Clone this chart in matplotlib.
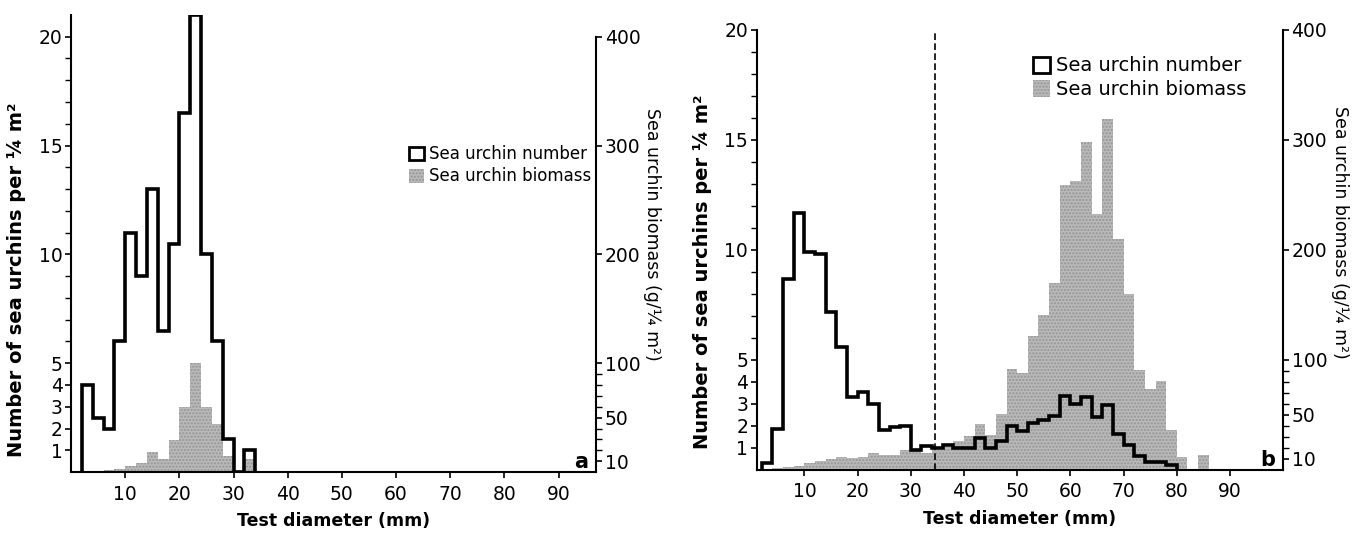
import numpy as np
import matplotlib
matplotlib.use("Agg")
import matplotlib.pyplot as plt
from matplotlib.patches import Patch

plt.rcParams['font.family'] = ['DejaVu Sans']

# size classes, 2 mm wide
edges_a = np.arange(2, 36, 2)
number_a = [4, 2.5, 2, 6, 11, 9, 13, 6.5, 10.5, 16.5, 21, 10, 6, 1.5, 0, 1]
biomass_a = [0, 0, 2, 3, 6, 8, 18, 12, 29, 60, 100, 60, 44, 15, 0, 12]

edges_b_num = np.arange(2, 82, 2)
number_b = [0.3, 1.85, 8.7, 11.7, 9.9, 9.8, 7.2, 5.6, 3.3, 3.55,
            3.0, 1.8, 1.95, 2.0, 0.9, 1.1, 1.0, 1.15, 1.0, 1.0,
            1.45, 1.0, 1.3, 2.0, 1.75, 2.15, 2.25, 2.45, 3.35, 3.0,
            3.3, 2.4, 2.95, 1.65, 1.15, 0.65, 0.38, 0.38, 0.22]
edges_b_bio = np.arange(2, 88, 2)
biomass_b = [0, 2, 3, 4, 6, 8, 10, 12, 11, 12,
             15, 14, 14, 18, 17, 15, 18, 21, 26, 31,
             42, 32, 51, 92, 88, 122, 141, 170, 259, 263,
             298, 233, 319, 210, 160, 91, 74, 81, 36, 12,
             0, 14]

divider_b = 34.5

num_ticks = [1, 2, 3, 4, 5, 10, 15, 20]
num_minor = [6, 7, 8, 9, 11, 12, 13, 14, 16, 17, 18, 19]
bio_ticks = [10, 50, 100, 200, 300, 400]
bio_minor = [20, 30, 40, 60, 70, 80, 90]
x_ticks = [10, 20, 30, 40, 50, 60, 70, 80, 90]

gray = '#b9b9b9'

fig = plt.figure(figsize=(13.68, 5.34), dpi=100)


def panel(rect, edges_n, num, edges_m, bio, ymax, xlim, letter, leg_anchor, leg_size):
    ax = fig.add_axes(rect)
    ax2 = ax.twinx()
    ax2.stairs(bio, edges_m, fill=True, facecolor=gray, edgecolor='#959595',
               hatch='.....', linewidth=0)
    ax.stairs(num, edges_n, color='black', linewidth=2.6, baseline=0)
    ax.set_zorder(2)
    ax2.set_zorder(1)
    ax.patch.set_visible(False)

    ax.set_xlim(*xlim)
    ax.set_ylim(0, ymax)
    ax2.set_ylim(0, ymax * 20)
    ax2.spines['right'].set_bounds(0, 400)

    for s in ['top', 'right']:
        ax.spines[s].set_visible(False)
    for s in ['top', 'left', 'bottom']:
        ax2.spines[s].set_visible(False)
    for a in (ax, ax2):
        for s in a.spines.values():
            s.set_linewidth(1.5)

    ax.set_yticks(num_ticks)
    ax.set_yticks(num_minor, minor=True)
    ax2.set_yticks(bio_ticks)
    ax2.set_yticks(bio_minor, minor=True)
    ax.set_xticks(x_ticks)
    ax.tick_params(labelsize=13.5, width=1.2, length=4, pad=2)
    ax.tick_params(axis='x', pad=5)
    ax.tick_params(which='minor', width=1.0, length=4)
    ax2.tick_params(labelsize=13.5, width=1.2, length=4, pad=2)
    ax2.tick_params(which='minor', width=1.0, length=4)

    ax.set_xlabel('Test diameter (mm)', fontsize=12.5, fontweight='bold', labelpad=6)
    ax.set_ylabel('Number of sea urchins per \u00bc m\u00b2', fontsize=14,
                  fontweight='bold')
    ax2.set_ylabel('Sea urchin biomass (g/\u00bc m\u00b2)', fontsize=12.5,
                   rotation=270, va='center')

    ax.text(0.985, 0.0, letter, transform=ax.transAxes, ha='right', va='bottom',
            fontsize=15, fontweight='bold')

    handles = [Patch(facecolor='white', edgecolor='black', linewidth=2),
               Patch(facecolor=gray, edgecolor='#959595', hatch='.....', linewidth=0)]
    ax.legend(handles, ['Sea urchin number', 'Sea urchin biomass'],
              loc='upper right', bbox_to_anchor=leg_anchor, frameon=False,
              fontsize=leg_size, handlelength=0.9, handleheight=0.9,
              handletextpad=0.3, labelspacing=0.25, borderaxespad=0,
              borderpad=0)
    return ax, ax2


ax_a, ax2_a = panel([0.052, 0.116, 0.384, 0.856], edges_a, number_a, edges_a,
                    biomass_a, 21.0, (0, 97), 'a', (0.99, 0.715), 12)
ax_a.yaxis.set_label_coords(-0.085, 0.42)
ax2_a.yaxis.set_label_coords(1.105, 0.52)

ax_b, ax2_b = panel([0.553, 0.120, 0.385, 0.824], edges_b_num, number_b,
                    edges_b_bio, biomass_b, 20.0, (1, 100), 'b', (0.93, 0.94), 14)
ax_b.plot([divider_b, divider_b], [0, 20], color='black', linewidth=1.2,
          linestyle=(0, (4, 2)), zorder=1)
ax_b.yaxis.set_label_coords(-0.085, 0.45)
ax2_b.yaxis.set_label_coords(1.108, 0.54)

fig.savefig('out.png', dpi=100)
